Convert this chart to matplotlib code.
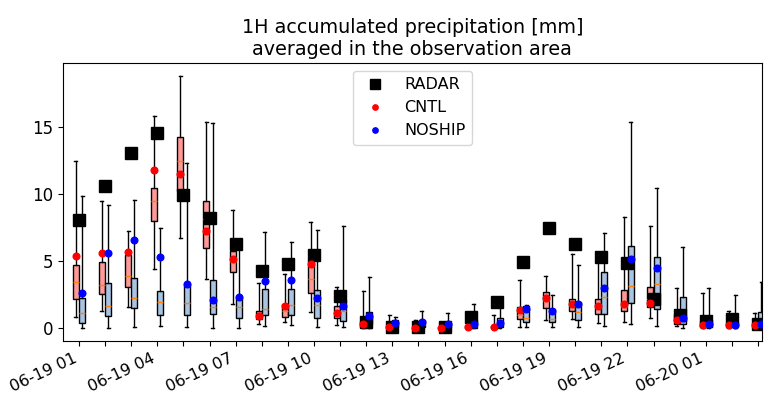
import matplotlib
matplotlib.use("Agg")
import matplotlib.pyplot as plt

# hourly steps, 06-19 01 .. 06-20 03
times = ["06-19 01", "06-19 02", "06-19 03", "06-19 04", "06-19 05", "06-19 06",
         "06-19 07", "06-19 08", "06-19 09", "06-19 10", "06-19 11", "06-19 12",
         "06-19 13", "06-19 14", "06-19 15", "06-19 16", "06-19 17", "06-19 18",
         "06-19 19", "06-19 20", "06-19 21", "06-19 22", "06-19 23", "06-20 00",
         "06-20 01", "06-20 02", "06-20 03"]

radar = [8.04, 10.6, 13.05, 14.52, 9.93, 8.19, 6.23, 4.27, 4.76, 5.41, 2.4, 0.42, 0.07,
         0.07, 0.1, 0.84, 1.91, 4.91, 7.47, 6.23, 5.33, 4.84, 2.18, 0.99, 0.5, 0.67, 0.27]

# CNTL ensemble
cntl_mean = [5.38, 5.6, 5.66, 11.76, 11.46, 7.27, 5.16, 0.92, 1.68, 4.79, 1.09, 0.27, 0.07,
             0.02, 0.0, 0.07, 0.05, 1.31, 2.23, 1.79, 1.68, 1.76, 1.86, 0.57, 0.25, 0.2, 0.2]
cntl_q1 = [2.18, 2.53, 3.05, 8.01, 10.2, 6.0, 4.17, 0.69, 0.82, 2.65, 0.72, 0.05, 0.0,
           0.0, 0.0, 0.0, 0.0, 0.67, 1.49, 1.24, 1.06, 1.24, 1.54, 0.32, 0.05, 0.05, 0.05]
cntl_med = [3.45, 3.2, 3.89, 9.48, 12.46, 8.14, 4.9, 0.9, 1.24, 3.67, 1.3, 0.15, 0.02,
            0.01, 0.0, 0.03, 0.02, 1.0, 1.98, 1.8, 1.5, 1.6, 2.2, 0.6, 0.2, 0.15, 0.15]
cntl_q3 = [4.71, 4.96, 5.46, 10.42, 14.22, 9.45, 5.76, 1.24, 1.81, 5.03, 1.64, 0.5, 0.15,
           0.1, 0.05, 0.2, 0.15, 1.56, 2.7, 2.16, 2.16, 2.85, 3.05, 1.06, 0.5, 0.4, 0.4]
cntl_lo = [0.79, 1.24, 1.56, 4.39, 6.7, 3.65, 1.79, 0.3, 0.47, 1.19, 0.25, 0.0, 0.0,
           0.0, 0.0, 0.0, 0.0, 0.05, 0.6, 0.64, 0.4, 0.42, 0.72, 0.12, 0.0, 0.0, 0.0]
cntl_hi = [12.48, 9.45, 7.24, 15.78, 18.81, 15.38, 8.83, 3.35, 4.04, 7.94, 3.03, 2.75, 0.97,
           0.6, 0.3, 1.2, 0.94, 3.57, 3.87, 5.51, 5.0, 8.31, 7.57, 2.98, 2.61, 1.24, 1.12]

# NOSHIP ensemble
noship_mean = [2.63, 5.56, 6.55, 5.26, 3.3, 2.11, 2.28, 3.47, 3.55, 2.21, 1.61, 0.92, 0.37,
               0.47, 0.3, 0.27, 0.35, 1.41, 1.29, 1.76, 3.02, 5.18, 4.51, 0.77, 0.3, 0.2, 0.3]
noship_q1 = [0.37, 0.92, 1.49, 0.94, 0.97, 1.06, 0.74, 0.94, 0.97, 0.72, 0.54, 0.27, 0.05,
             0.05, 0.02, 0.02, 0.05, 0.42, 0.45, 0.62, 1.06, 1.86, 1.39, 0.32, 0.05, 0.05, 0.25]
noship_med = [1.12, 1.64, 2.23, 1.91, 1.88, 1.59, 1.56, 1.41, 1.71, 1.71, 1.24, 0.6, 0.3,
              0.25, 0.15, 0.15, 0.3, 0.77, 0.67, 1.16, 2.28, 3.1, 3.28, 0.8, 0.25, 0.15, 0.6]
noship_q3 = [2.26, 3.35, 3.72, 2.75, 3.3, 3.6, 2.28, 2.93, 2.93, 2.8, 2.06, 1.21, 0.57,
             0.6, 0.4, 0.57, 0.77, 1.61, 1.41, 1.91, 4.17, 6.13, 5.29, 2.31, 0.6, 0.45, 1.19]
noship_lo = [0, 0, 0.07, 0.12, 0.07, 0, 0, 0.17, 0.25, 0.1, 0.1, 0, 0,
             0, 0, 0, 0, 0.05, 0.07, 0.1, 0.12, 0.32, 0.15, 0.02, 0, 0, 0]
noship_hi = [9.83, 9.16, 9.55, 7.42, 12.31, 15.29, 6.0, 7.15, 6.45, 7.34, 7.62, 3.8, 0.86,
             1.29, 1.09, 1.83, 1.7, 1.7, 2.43, 4.71, 7.12, 15.38, 10.42, 6.03, 2.98, 2.46, 3.4]


def make_stats(lo, q1, med, q3, hi):
    return [dict(whislo=a, q1=b, med=c, q3=d, whishi=e, fliers=[])
            for a, b, c, d, e in zip(lo, q1, med, q3, hi)]


x = list(range(len(times)))
off = 0.12
w = 0.23

fig, ax = plt.subplots(figsize=(7.65, 3.94), dpi=100)
fig.subplots_adjust(left=0.082, right=0.996, bottom=0.135, top=0.84)

ax.bxp(make_stats(cntl_lo, cntl_q1, cntl_med, cntl_q3, cntl_hi),
       positions=[i - off for i in x], widths=w, patch_artist=True,
       showfliers=False, manage_ticks=False,
       boxprops=dict(facecolor="#ff9999", edgecolor="black"))
ax.bxp(make_stats(noship_lo, noship_q1, noship_med, noship_q3, noship_hi),
       positions=[i + off for i in x], widths=w, patch_artist=True,
       showfliers=False, manage_ticks=False,
       boxprops=dict(facecolor="#a8c4e2", edgecolor="black"))

ax.plot(x, radar, "s", color="black", markersize=8.5, label="RADAR", zorder=4)
ax.plot([i - off for i in x], cntl_mean, "o", color="red", markersize=4.8,
        label="CNTL", zorder=5)
ax.plot([i + off for i in x], noship_mean, "o", color="blue", markersize=4.8,
        label="NOSHIP", zorder=5)

ax.set_xticks(x)
ax.set_xticklabels([t if i % 3 == 0 else "" for i, t in enumerate(times)],
                   rotation=25, ha="right", fontsize=11.5)
ax.set_xlim(-0.62, 26.15)
ax.set_ylim(-0.95, 19.75)
ax.set_yticks([0, 5, 10, 15])
ax.tick_params(axis="y", labelsize=12)

ax.set_title("1H accumulated precipitation [mm]\naveraged in the observation area",
             fontsize=13.8)
ax.legend(loc="upper center", fontsize=11.5, markerscale=0.8)

fig.savefig("out.png")
